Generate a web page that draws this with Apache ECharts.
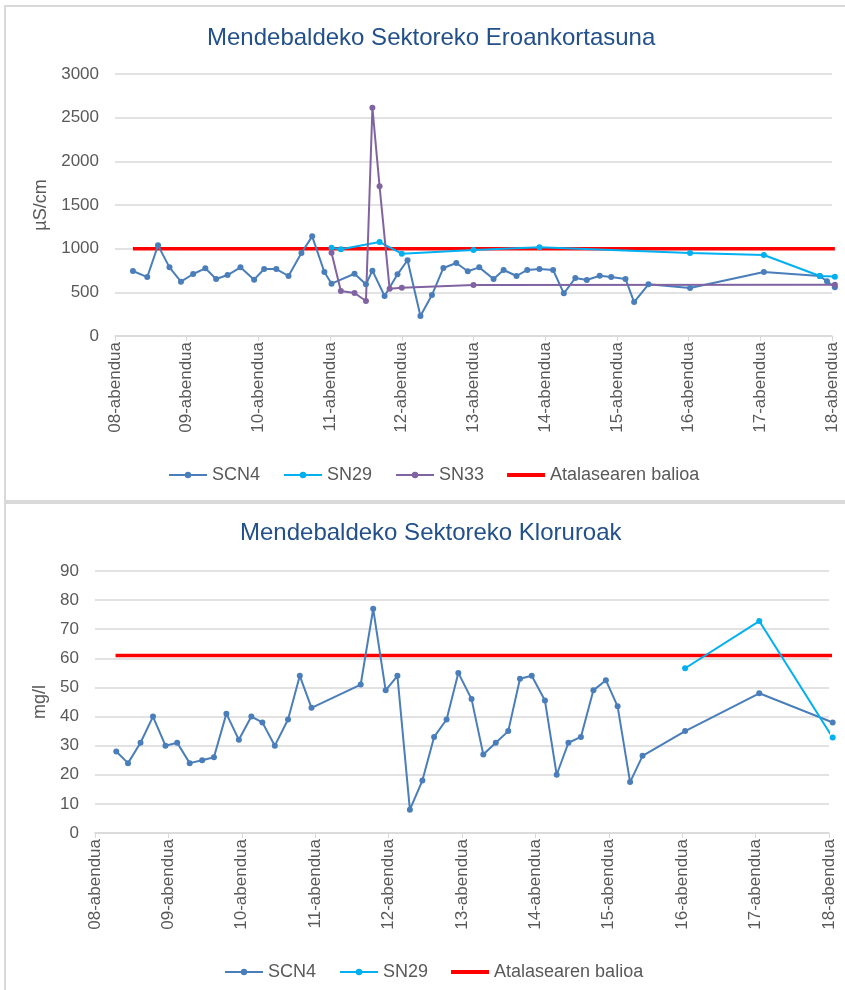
<!DOCTYPE html>
<html>
<head>
<meta charset="utf-8">
<script src="https://cdn.jsdelivr.net/npm/echarts@6/dist/echarts.min.js"></script>
<style>
  html, body { margin: 0; padding: 0; background: #fff; }
  #main { width: 845px; height: 990px; }
</style>
</head>
<body>
<div id="main"></div>
<script>
// egunak (x ardatza) - 08-abendua = 0
const dayLabels = ['08-abendua', '09-abendua', '10-abendua', '11-abendua', '12-abendua', '13-abendua',
  '14-abendua', '15-abendua', '16-abendua', '17-abendua', '18-abendua']

// Eroankortasuna (µS/cm)
const scn4CondDays = [0.25, 0.45, 0.60, 0.76, 0.92, 1.09, 1.26, 1.41, 1.57, 1.75, 1.94, 2.08, 2.25, 2.42, 2.60,
  2.75, 2.92, 3.02, 3.34, 3.50, 3.59, 3.76, 3.94, 4.08, 4.26, 4.42, 4.58, 4.76, 4.92, 5.08, 5.28, 5.42, 5.60,
  5.75, 5.92, 6.11, 6.26, 6.42, 6.58, 6.76, 6.92, 7.12, 7.24, 7.44, 8.02, 9.05, 9.83, 9.93, 10.04]
const scn4Cond = [744, 675, 1038, 786, 622, 710, 775, 653, 698, 786, 645, 767, 767, 687, 950,
  1141, 733, 599, 713, 592, 748, 458, 706, 867, 229, 469, 779, 836, 741, 786, 653, 756, 687,
  756, 767, 756, 489, 664, 641, 690, 675, 653, 389, 592, 550, 733, 687, 626, 557]
const sn29CondDays = [3.02, 3.15, 3.69, 4.00, 5.00, 5.92, 8.02, 9.05, 9.83, 10.04]
const sn29Cond = [1011, 993, 1076, 942, 985, 1015, 950, 927, 687, 679]
const sn33CondDays = [3.02, 3.15, 3.34, 3.50, 3.59, 3.69, 3.83, 4.00, 5.00, 10.04]
const sn33Cond = [954, 515, 492, 401, 2614, 1714, 542, 553, 584, 587]
const condLimitDays = [0.25, 10.04]
const condLimit = [1000, 1000]

// Kloruroak (mg/l)
const scn4ClDays = [0.29, 0.45, 0.62, 0.79, 0.96, 1.12, 1.29, 1.46, 1.62, 1.79, 1.96, 2.13, 2.28, 2.45, 2.63,
  2.79, 2.95, 3.62, 3.79, 3.96, 4.12, 4.29, 4.46, 4.62, 4.79, 4.95, 5.13, 5.29, 5.46, 5.63, 5.79, 5.95,
  6.13, 6.29, 6.45, 6.62, 6.79, 6.96, 7.12, 7.29, 7.46, 8.04, 9.05, 10.05]
const scn4Cl = [28, 24, 31, 40, 30, 31, 24, 25, 26, 41, 32, 40, 38, 30, 39,
  54, 43, 51, 77, 49, 54, 8, 18, 33, 39, 55, 46, 27, 31, 35, 53, 54,
  45.5, 20, 31, 33, 49, 52.5, 43.5, 17.5, 26.5, 35, 48, 38]
const sn29ClDays = [8.04, 9.05, 10.05]
const sn29Cl = [56.6, 72.8, 32.8]
const clLimitDays = [0.28, 10.05]
const clLimit = [61, 61]

const pairs = (xs, ys) => xs.map((x, i) => [x, ys[i]])

const textColor = '#595959'
const gridColor = '#d9d9d9'
const fontFamily = 'Liberation Sans, Arial, sans-serif'
const limitIcon = 'path://M0,0 L32,0 L32,3.5 L0,3.5 Z'

function xAxisFor(gridIndex) {
  return {
    type: 'value',
    gridIndex: gridIndex,
    min: 0,
    max: 10,
    interval: 1,
    splitLine: { show: false },
    axisLine: { show: true, lineStyle: { color: gridColor, width: 1.5 } },
    axisTick: { show: true, length: 5, lineStyle: { color: gridColor } },
    axisLabel: {
      rotate: 90,
      margin: 6,
      color: textColor,
      fontSize: 17,
      fontFamily: fontFamily,
      formatter: v => dayLabels[Math.round(v)]
    }
  }
}

function yAxisFor(gridIndex, name, max, interval, gap) {
  return {
    type: 'value',
    gridIndex: gridIndex,
    min: 0,
    max: max,
    interval: interval,
    name: name,
    nameLocation: 'middle',
    nameGap: gap,
    nameTextStyle: { color: textColor, fontSize: 18, fontFamily: fontFamily },
    axisLine: { show: false },
    axisTick: { show: false },
    axisLabel: { color: textColor, fontSize: 17, fontFamily: fontFamily, margin: 16, formatter: v => String(v) },
    splitLine: { lineStyle: { color: gridColor, width: 1.5 } }
  }
}

function lineSeries(name, data, color, idx) {
  return {
    name: name,
    type: 'line',
    xAxisIndex: idx,
    yAxisIndex: idx,
    data: data,
    color: color,
    symbol: 'circle',
    symbolSize: 6,
    lineStyle: { width: 2 },
    clip: false,
    animation: false
  }
}

function limitSeries(data, idx) {
  return {
    name: 'Atalasearen balioa',
    type: 'line',
    xAxisIndex: idx,
    yAxisIndex: idx,
    data: data,
    color: '#ff0000',
    showSymbol: false,
    symbol: 'none',
    lineStyle: { width: 3.5 },
    clip: false,
    z: 1,
    animation: false
  }
}

function legendFor(names, top, left) {
  return {
    data: names.map(n => n === 'Atalasearen balioa' ? { name: n, icon: limitIcon } : n),
    top: top,
    left: left,
    itemWidth: 38,
    itemHeight: 8,
    itemGap: 23,
    textStyle: { color: textColor, fontSize: 18, fontFamily: fontFamily }
  }
}

const option = {
  backgroundColor: '#fff',
  title: [
    {
      text: 'Mendebaldeko Sektoreko Eroankortasuna',
      left: 207,
      top: 26,
      padding: 0,
      textStyle: { color: '#23508a', fontSize: 24, fontWeight: 'normal', fontFamily: fontFamily }
    },
    {
      text: 'Mendebaldeko Sektoreko Kloruroak',
      left: 240,
      top: 521,
      padding: 0,
      textStyle: { color: '#23508a', fontSize: 24, fontWeight: 'normal', fontFamily: fontFamily }
    }
  ],
  legend: [
    legendFor(['SCN4', 'SN29', 'SN33', 'Atalasearen balioa'], 461, 163),
    legendFor(['SCN4', 'SN29', 'Atalasearen balioa'], 958, 219)
  ],
  grid: [
    { left: 115, right: 13, top: 74, height: 262 },
    { left: 95, right: 16, top: 571, height: 262 }
  ],
  xAxis: [xAxisFor(0), xAxisFor(1)],
  yAxis: [
    yAxisFor(0, 'µS/cm', 3000, 500, 64),
    yAxisFor(1, 'mg/l', 90, 10, 42)
  ],
  graphic: [
    { type: 'rect', shape: { x: 5, y: 6, width: 850, height: 495 }, style: { fill: 'none', stroke: gridColor, lineWidth: 2 }, silent: true },
    { type: 'rect', shape: { x: 5, y: 503, width: 850, height: 495 }, style: { fill: 'none', stroke: gridColor, lineWidth: 2 }, silent: true }
  ],
  series: [
    limitSeries(pairs(condLimitDays, condLimit), 0),
    lineSeries('SCN4', pairs(scn4CondDays, scn4Cond), '#4a7ebb', 0),
    lineSeries('SN29', pairs(sn29CondDays, sn29Cond), '#00b0f0', 0),
    lineSeries('SN33', pairs(sn33CondDays, sn33Cond), '#8064a2', 0),
    limitSeries(pairs(clLimitDays, clLimit), 1),
    lineSeries('SCN4', pairs(scn4ClDays, scn4Cl), '#4a7ebb', 1),
    lineSeries('SN29', pairs(sn29ClDays, sn29Cl), '#00b0f0', 1)
  ]
}

const myChart = echarts.init(document.getElementById('main'))
myChart.setOption(option, true)
window.addEventListener('resize', () => {
  myChart.resize()
})
</script>
</body>
</html>
